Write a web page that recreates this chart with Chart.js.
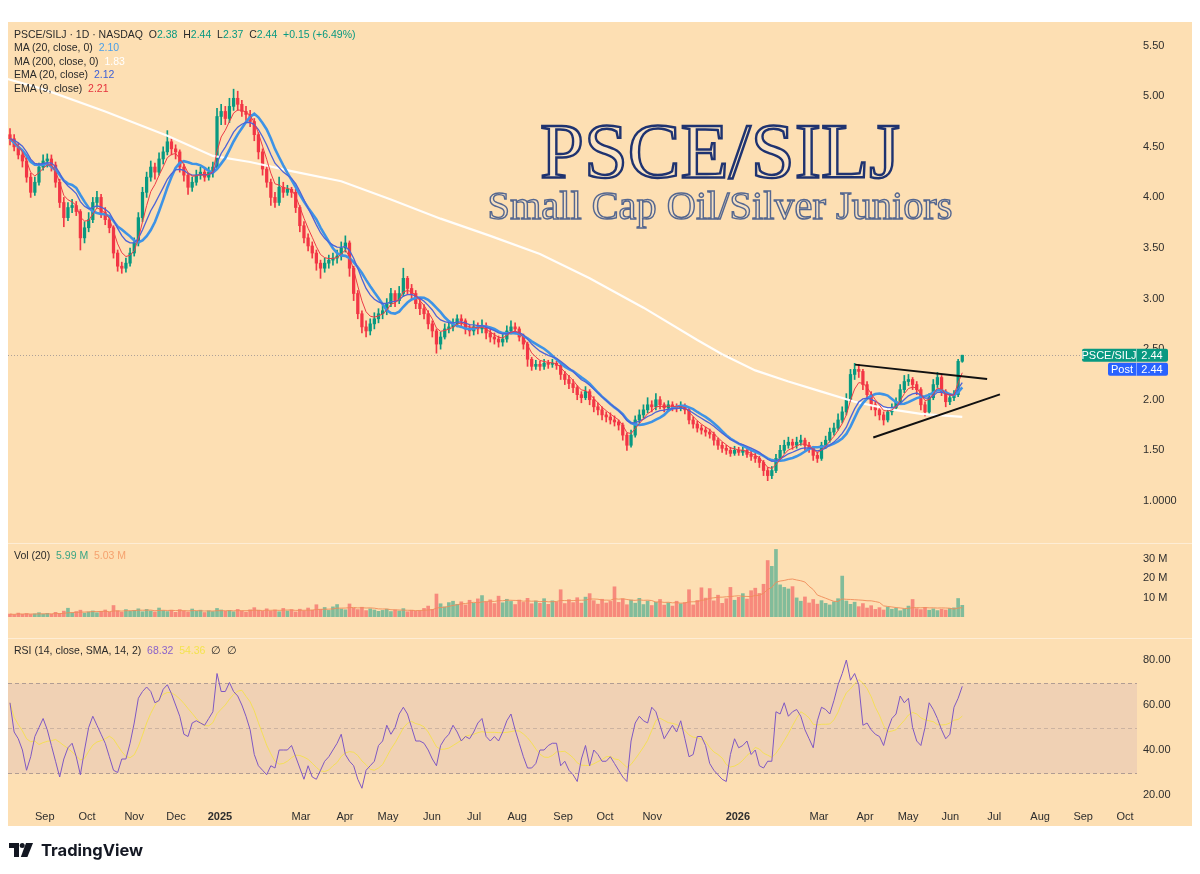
<!DOCTYPE html>
<html>
<head>
<meta charset="utf-8">
<script src="https://cdn.jsdelivr.net/npm/chart.js@4.4.1/dist/chart.umd.min.js"></script>
<style>
  body { margin: 0; width: 1200px; height: 874px; background: #fff; position: relative; overflow: hidden; font-family: 'Liberation Sans', Arial, sans-serif; }
  #panel { position: absolute; left: 8px; top: 22px; width: 1184px; height: 804px; background: #fddfb3; }
  .box { position: absolute; left: 8px; width: 1184px; }
  .sep { position: absolute; left: 8px; width: 1184px; height: 1px; background: rgba(255,255,255,0.45); }
  .lbl { position: absolute; left: 14px; font-size: 10.5px; line-height: 13.4px; color: #2a2a2a; white-space: pre; }
  #logo { position: absolute; left: 9px; top: 840px; display: flex; align-items: center; gap: 7px; font-family: Inter, sans-serif; font-weight: 700; font-size: 16.5px; color: #131722; }
  svg.title { position: absolute; left: 0; top: 0; }
</style>
</head>
<body>
<div id="panel"></div>
<div class="box" style="top:22px;height:521px"><canvas id="priceChart"></canvas></div>
<div class="sep" style="top:543px"></div>
<div class="box" style="top:543px;height:95px"><canvas id="volChart"></canvas></div>
<div class="sep" style="top:638px"></div>
<div class="box" style="top:638px;height:188px"><canvas id="rsiChart"></canvas></div>

<div class="lbl" style="top:28px">PSCE/SILJ · 1D · NASDAQ  O<span style="color:#089981">2.38</span>  H<span style="color:#089981">2.44</span>  L<span style="color:#089981">2.37</span>  C<span style="color:#089981">2.44</span>  <span style="color:#089981">+0.15 (+6.49%)</span>
MA (20, close, 0)  <span style="color:#4a9fe8">2.10</span>
MA (200, close, 0)  <span style="color:#ffffff">1.83</span>
EMA (20, close)  <span style="color:#3c5fd6">2.12</span>
EMA (9, close)  <span style="color:#e5323d">2.21</span></div>
<div class="lbl" style="top:549px">Vol (20)  <span style="color:#3aa584">5.99 M</span>  <span style="color:#f5a26e">5.03 M</span></div>
<div class="lbl" style="top:644px">RSI (14, close, SMA, 14, 2)  <span style="color:#8a62c9">68.32</span>  <span style="color:#f3e34f">54.36</span>  ∅  ∅</div>

<svg class="title" width="1200" height="874">
  <text x="720" y="177" text-anchor="middle" textLength="360" lengthAdjust="spacingAndGlyphs"
        font-family="'Liberation Serif', 'DejaVu Serif', serif" font-size="79"
        fill="#fbe5c4" stroke="#1f3370" stroke-width="2.4">PSCE/SILJ</text>
  <text x="720" y="219" text-anchor="middle" textLength="465" lengthAdjust="spacingAndGlyphs"
        font-family="'Liberation Serif', 'DejaVu Serif', serif" font-size="40"
        fill="#f6e0c2" stroke="#55678f" stroke-width="1.4">Small Cap Oil/Silver Juniors</text>
</svg>

<div id="logo">
  <svg width="25" height="14" viewBox="0 0 25 14"><path d="M0 0h10v14H5V5H0z" fill="#131722"/><circle cx="13.2" cy="2.6" r="2.5" fill="#131722"/><path d="M17 0h7l-5.6 14h-6.6z" fill="#131722"/></svg>
  <span>TradingView</span>
</div>

<script>
// one point = 2 trading days, bar index 0 = late Aug 2024
const firstOpen = 4.62;
const closes = [
  4.58,4.5,4.42,4.36,4.2,4.05,4.15,4.3,4.36,4.38,
  4.32,4.15,3.95,3.8,3.9,3.92,3.86,3.6,3.7,3.78,
  3.95,4.0,3.85,3.78,3.7,3.45,3.32,3.3,3.35,3.45,
  3.55,3.8,4.05,4.2,4.3,4.25,4.38,4.45,4.55,4.48,
  4.45,4.3,4.22,4.1,4.15,4.22,4.25,4.2,4.25,4.3,
  4.8,4.85,4.78,4.9,4.98,4.92,4.85,4.82,4.75,4.62,
  4.45,4.28,4.15,4.0,3.95,4.1,4.05,4.08,4.05,3.9,
  3.72,3.6,3.52,3.45,3.35,3.3,3.35,3.38,3.4,3.42,
  3.5,3.55,3.3,3.05,2.85,2.72,2.68,2.75,2.8,2.85,
  2.88,2.95,3.05,2.98,3.05,3.2,3.1,3.05,2.95,2.9,
  2.85,2.75,2.68,2.55,2.62,2.7,2.72,2.75,2.8,2.78,
  2.7,2.68,2.72,2.7,2.73,2.66,2.62,2.6,2.57,2.6,
  2.68,2.72,2.7,2.62,2.55,2.4,2.33,2.35,2.33,2.36,
  2.35,2.36,2.34,2.25,2.2,2.16,2.12,2.05,2.02,2.08,
  2.0,1.93,1.9,1.85,1.83,1.8,1.78,1.75,1.65,1.55,
  1.65,1.8,1.85,1.9,1.95,1.93,2.0,1.95,1.92,1.95,
  1.93,1.92,1.94,1.9,1.8,1.76,1.72,1.7,1.68,1.66,
  1.6,1.55,1.52,1.5,1.47,1.5,1.48,1.5,1.46,1.44,
  1.42,1.38,1.3,1.25,1.3,1.42,1.5,1.55,1.58,1.55,
  1.58,1.6,1.55,1.52,1.45,1.42,1.55,1.6,1.68,1.72,
  1.8,1.88,2.0,2.25,2.3,2.28,2.15,2.05,1.95,1.9,
  1.85,1.8,1.88,1.92,1.98,2.1,2.18,2.2,2.15,2.1,
  1.95,1.88,2.02,2.15,2.22,2.08,1.98,2.02,2.05,2.38,2.44
];
const highs = [
  4.68,4.62,4.54,4.46,4.4,4.24,4.2,4.34,4.42,4.43,
  4.42,4.35,4.18,4.0,3.95,3.98,3.96,3.88,3.76,3.85,
  4.0,4.06,4.03,3.9,3.82,3.72,3.48,3.36,3.4,3.5,
  3.6,3.85,4.1,4.25,4.36,4.34,4.44,4.5,4.66,4.58,
  4.52,4.47,4.33,4.24,4.2,4.27,4.3,4.29,4.3,4.35,
  4.88,4.92,4.9,4.98,5.07,5.05,4.96,4.9,4.86,4.78,
  4.64,4.48,4.32,4.18,4.05,4.2,4.15,4.12,4.1,4.08,
  3.92,3.76,3.64,3.56,3.48,3.38,3.4,3.43,3.45,3.48,
  3.56,3.62,3.57,3.32,3.08,2.88,2.78,2.8,2.86,2.9,
  2.93,3.0,3.1,3.08,3.12,3.3,3.22,3.14,3.08,3.0,
  2.94,2.88,2.78,2.7,2.67,2.75,2.78,2.8,2.84,2.84,
  2.8,2.74,2.78,2.76,2.79,2.76,2.7,2.66,2.63,2.65,
  2.73,2.78,2.76,2.72,2.65,2.57,2.42,2.39,2.38,2.4,
  2.39,2.4,2.38,2.36,2.28,2.24,2.2,2.14,2.08,2.13,
  2.1,2.03,1.97,1.93,1.88,1.87,1.84,1.8,1.77,1.67,
  1.7,1.84,1.9,1.95,2.02,1.99,2.06,2.03,1.97,1.99,
  1.98,1.96,1.98,1.96,1.92,1.83,1.79,1.75,1.73,1.71,
  1.68,1.62,1.58,1.55,1.53,1.54,1.53,1.53,1.52,1.49,
  1.47,1.44,1.4,1.33,1.34,1.46,1.55,1.6,1.63,1.61,
  1.63,1.65,1.62,1.58,1.54,1.48,1.58,1.64,1.72,1.77,
  1.86,1.93,2.06,2.3,2.36,2.35,2.3,2.18,2.08,1.98,
  1.93,1.88,1.92,1.96,2.02,2.15,2.24,2.25,2.22,2.18,
  2.12,1.98,2.06,2.2,2.27,2.24,2.1,2.06,2.09,2.4,2.44
];
const lows = [
  4.52,4.46,4.38,4.3,4.15,4.0,4.02,4.12,4.27,4.3,
  4.26,4.1,3.9,3.71,3.77,3.85,3.82,3.48,3.55,3.66,
  3.75,3.9,3.8,3.73,3.65,3.4,3.27,3.25,3.26,3.32,
  3.42,3.52,3.76,4.0,4.16,4.18,4.22,4.33,4.42,4.42,
  4.38,4.25,4.16,4.03,4.06,4.12,4.18,4.16,4.17,4.2,
  4.28,4.72,4.72,4.74,4.86,4.86,4.8,4.76,4.7,4.56,
  4.38,4.22,4.1,3.92,3.9,3.92,4.0,4.02,4.0,3.85,
  3.66,3.55,3.47,3.4,3.28,3.2,3.26,3.3,3.33,3.35,
  3.38,3.46,3.22,2.98,2.8,2.66,2.62,2.64,2.7,2.76,
  2.8,2.84,2.92,2.92,2.95,3.02,3.04,3.0,2.9,2.84,
  2.8,2.7,2.62,2.46,2.5,2.6,2.66,2.68,2.72,2.73,
  2.65,2.63,2.64,2.65,2.66,2.6,2.57,2.55,2.52,2.53,
  2.57,2.65,2.65,2.58,2.5,2.33,2.29,2.3,2.29,2.3,
  2.31,2.32,2.3,2.2,2.15,2.11,2.07,2.0,1.97,2.0,
  1.95,1.88,1.85,1.8,1.78,1.76,1.74,1.7,1.6,1.5,
  1.53,1.63,1.77,1.82,1.87,1.88,1.9,1.91,1.88,1.89,
  1.89,1.88,1.89,1.86,1.76,1.72,1.68,1.66,1.64,1.62,
  1.55,1.51,1.48,1.46,1.44,1.45,1.45,1.45,1.43,1.4,
  1.38,1.33,1.25,1.2,1.22,1.28,1.4,1.47,1.52,1.51,
  1.52,1.55,1.5,1.48,1.4,1.38,1.4,1.52,1.58,1.65,
  1.7,1.77,1.85,1.98,2.2,2.22,2.1,2.0,1.9,1.84,
  1.8,1.75,1.78,1.85,1.9,1.96,2.07,2.14,2.1,2.05,
  1.9,1.84,1.86,2.0,2.12,2.04,1.93,1.95,1.99,2.03,2.37
];
// millions
const volumes = [
  1.5,1.2,2.0,1.4,1.8,1.3,1.6,2.2,1.5,1.9,
  1.4,2.4,1.8,3.0,4.5,2.2,2.8,3.5,2.0,2.6,
  3.1,2.2,2.9,3.6,2.4,5.9,3.2,2.5,3.8,2.9,
  3.4,4.2,2.7,3.9,3.1,2.6,4.6,3.3,2.8,3.5,
  2.4,3.8,3.0,2.6,4.1,2.9,3.5,2.3,3.2,2.8,
  4.4,3.6,2.9,3.4,2.7,3.9,3.1,2.5,3.7,4.8,
  3.5,2.9,4.2,3.0,3.6,2.7,4.4,3.1,3.8,2.6,
  4.0,3.2,4.6,3.5,6.3,3.9,4.9,3.4,5.2,6.4,
  4.1,3.7,6.7,4.5,3.8,5.0,3.3,4.2,3.6,2.9,
  3.4,4.0,2.8,3.6,3.1,4.3,2.7,3.5,2.9,3.2,
  4.4,5.6,3.9,11.8,6.8,5.2,7.4,8.1,6.5,7.8,
  6.2,8.6,7.1,9.3,11.0,7.6,8.8,6.9,10.7,7.3,
  9.1,8.0,6.4,8.7,7.5,9.6,6.8,8.2,7.0,9.4,
  6.5,8.3,7.7,14.0,6.9,8.9,7.4,9.9,7.1,10.2,
  12.0,8.4,6.6,9.1,7.2,8.0,15.5,7.5,9.3,6.3,
  8.7,7.1,9.6,6.4,8.2,5.9,7.6,9.0,6.1,7.3,
  5.6,8.1,6.8,7.4,14.0,6.2,8.5,15.0,9.7,14.6,
  8.3,11.2,7.0,9.4,15.2,8.6,10.1,12.0,9.2,13.5,
  14.8,12.1,16.8,29.0,26.0,34.7,16.5,15.2,14.4,15.6,
  9.8,8.1,10.3,7.2,9.0,6.6,8.4,7.0,6.2,7.8,
  9.4,21.0,8.2,6.5,7.6,5.3,6.9,4.6,5.8,3.9,
  4.8,3.6,5.1,4.0,4.5,3.2,4.1,5.6,9.0,4.3,
  3.8,4.9,3.5,4.2,3.3,4.0,3.6,4.4,4.7,9.5,6.0
];
const rsiValues = [
  61,48,45,40,31,37,46,50,54,49,
  42,35,28,36,41,43,37,29,40,50,
  55,51,47,43,37,31,30,36,36,43,
  52,63,66,68,66,61,62,67,69,65,
  60,55,47,46,52,53,52,51,54,57,
  74,66,66,70,66,64,60,55,49,38,
  33,31,29,33,32,40,40,40,42,37,
  32,27,33,28,27,31,35,37,40,43,
  47,38,35,33,27,23,31,33,35,42,
  44,51,47,50,56,59,56,50,44,44,
  43,40,36,33,42,45,47,51,48,44,
  46,45,48,52,54,46,44,46,44,48,
  53,56,49,43,37,32,32,34,40,40,
  42,43,43,33,35,31,29,26,36,42,
  33,40,38,35,35,37,34,31,28,26,
  44,52,55,53,52,59,57,51,45,48,
  51,48,53,45,37,38,46,46,42,34,
  31,29,27,26,38,45,41,42,44,38,
  40,33,32,35,35,57,56,61,55,57,
  58,55,49,45,41,53,59,58,56,62,
  69,74,80,71,74,69,51,52,49,47,
  46,42,49,54,56,64,61,63,50,44,
  42,50,61,58,54,49,45,47,59,63,68.3
];
const ma200Index = [-3, 8, 23, 38, 49, 58, 68, 80, 92, 104, 116, 128, 140, 153, 166, 172, 180, 188, 196, 204, 212, 220, 230];
const ma200Values = [5.2, 5.07, 4.85, 4.61, 4.41, 4.35, 4.26, 4.16, 3.98, 3.79, 3.62, 3.44, 3.2, 2.91, 2.59, 2.45, 2.29, 2.18, 2.08, 1.98, 1.91, 1.86, 1.83];
// hand-drawn triangle
const trendUpperX = [204.1, 236.0];
const trendUpperY = [2.347, 2.205];
const trendLowerX = [208.5, 239.1];
const trendLowerY = [1.626, 2.053];
// month ticks on the bar-index axis
const monthTicks = [8.4, 18.6, 30.0, 40.1, 50.7, 70.3, 80.9, 91.3, 101.9, 112.1, 122.5, 133.6, 143.7, 155.1, 175.8, 195.4, 206.5, 216.9, 227.1, 237.7, 248.8, 259.2, 269.3];
const monthLabels = ['Sep', 'Oct', 'Nov', 'Dec', '2025', 'Mar', 'Apr', 'May', 'Jun', 'Jul', 'Aug', 'Sep', 'Oct', 'Nov', '2026', 'Mar', 'Apr', 'May', 'Jun', 'Jul', 'Aug', 'Sep', 'Oct'];
const priceTicks = [1, 1.5, 2, 2.5, 3, 3.5, 4, 4.5, 5, 5.5];
const volTicks = [10, 20, 30];
const rsiTicks = [20, 40, 60, 80];

const DAYS_PER_POINT = 2;
const GREEN = '#089981', RED = '#f23645';
const X_MIN = -0.483, X_MAX = 272.2;

Chart.defaults.font.family = "'Liberation Sans', Arial, sans-serif";
Chart.defaults.color = '#333';

function sma(arr, n) {
    return arr.map((_, i) => {
        const s = arr.slice(Math.max(0, i - n + 1), i + 1);
        return s.reduce((a, b) => a + b, 0) / s.length;
    });
}
function ema(arr, n) {
    const k = 2 / (n + 1);
    let prev = arr[0];
    return arr.map(v => (prev = prev + k * (v - prev)));
}

const idx = closes.map((_, i) => i);
const opens = closes.map((c, i) => i ? closes[i - 1] : firstOpen);
const isUp = idx.map(i => closes[i] >= opens[i]);
const xy = ys => ys.map((y, i) => ({ x: i, y }));
const lastClose = closes[closes.length - 1];

function xAxis(show) {
    return {
        type: 'linear', min: X_MIN, max: X_MAX, offset: false, display: show,
        grid: { display: false, drawTicks: false }, border: { display: false },
        afterBuildTicks: s => { s.ticks = monthTicks.map(v => ({ value: v })); },
        afterFit: s => { s.height = 21; s.paddingLeft = 0; s.paddingRight = 0; },
        ticks: {
            autoSkip: false, maxRotation: 0, padding: 5, color: '#2e2e2e',
            callback: (v, i) => monthLabels[i],
            font: ctx => ({ size: 11, weight: /^\d{4}$/.test(monthLabels[ctx.index]) ? 'bold' : 'normal' })
        }
    };
}
function yAxis(min, max, ticks, fmt) {
    return {
        position: 'right', min, max,
        grid: { display: false, drawTicks: false }, border: { display: false },
        afterBuildTicks: s => { s.ticks = ticks.map(v => ({ value: v })); },
        afterFit: s => { s.width = 55; s.paddingTop = 0; s.paddingBottom = 0; },
        ticks: { callback: fmt, padding: 6, color: '#2e2e2e', font: { size: 11 } }
    };
}
const baseOpts = {
    responsive: true, maintainAspectRatio: false, animation: false,
    layout: { padding: 0 },
    plugins: { legend: { display: false }, tooltip: { enabled: false } }
};

function roundRect(ctx, x, y, w, h, r) {
    ctx.beginPath();
    ctx.moveTo(x + r, y); ctx.lineTo(x + w - r, y); ctx.quadraticCurveTo(x + w, y, x + w, y + r);
    ctx.lineTo(x + w, y + h - r); ctx.quadraticCurveTo(x + w, y + h, x + w - r, y + h);
    ctx.lineTo(x + r, y + h); ctx.quadraticCurveTo(x, y + h, x, y + h - r);
    ctx.lineTo(x, y + r); ctx.quadraticCurveTo(x, y, x + r, y); ctx.fill();
}
function drawTag(ctx, left, split, right, cy, color, name, value) {
    ctx.fillStyle = color;
    roundRect(ctx, left, cy - 6.5, right - left, 13, 2);
    ctx.strokeStyle = 'rgba(255,255,255,0.45)';
    ctx.beginPath(); ctx.moveTo(split + 0.5, cy - 6.5); ctx.lineTo(split + 0.5, cy + 6.5); ctx.stroke();
    ctx.fillStyle = '#fff';
    ctx.font = "11px 'Liberation Sans', Arial, sans-serif";
    ctx.textBaseline = 'middle'; ctx.textAlign = 'center';
    ctx.fillText(name, (left + split) / 2, cy + 0.5);
    ctx.fillText(value, (split + right) / 2, cy + 0.5);
}

const priceDecor = {
    id: 'priceDecor',
    beforeDatasetsDraw(chart) {
        const { ctx, chartArea: a, scales: { y } } = chart;
        const py = Math.round(y.getPixelForValue(lastClose)) + 0.5;
        ctx.save();
        ctx.strokeStyle = 'rgba(110,110,130,0.55)'; ctx.lineWidth = 1; ctx.setLineDash([1, 2]);
        ctx.beginPath(); ctx.moveTo(a.left, py); ctx.lineTo(a.right, py); ctx.stroke();
        ctx.restore();
    },
    afterDraw(chart) {
        const { ctx, chartArea: a, scales: { y } } = chart;
        const py = y.getPixelForValue(lastClose);
        ctx.save();
        drawTag(ctx, a.right - 55, a.right - 1, a.right + 31, py, GREEN, 'PSCE/SILJ', lastClose.toFixed(2));
        drawTag(ctx, a.right - 29, a.right - 1, a.right + 31, py + 14, '#2962ff', 'Post', lastClose.toFixed(2));
        ctx.restore();
    }
};

const rsiDecor = {
    id: 'rsiDecor',
    beforeDatasetsDraw(chart) {
        const { ctx, chartArea: a, scales: { y } } = chart;
        const y70 = Math.round(y.getPixelForValue(70)) + 0.5;
        const y50 = Math.round(y.getPixelForValue(50)) + 0.5;
        const y30 = Math.round(y.getPixelForValue(30)) + 0.5;
        ctx.save();
        ctx.fillStyle = 'rgba(126,87,194,0.1)';
        ctx.fillRect(a.left, y70, a.right - a.left, y30 - y70);
        ctx.setLineDash([4, 3]); ctx.lineWidth = 1;
        ctx.strokeStyle = 'rgba(120,110,120,0.55)';
        [y70, y30].forEach(v => { ctx.beginPath(); ctx.moveTo(a.left, v); ctx.lineTo(a.right, v); ctx.stroke(); });
        ctx.strokeStyle = 'rgba(120,110,120,0.3)';
        ctx.beginPath(); ctx.moveTo(a.left, y50); ctx.lineTo(a.right, y50); ctx.stroke();
        ctx.restore();
    }
};

const lineDs = (data, color, width, order) => ({
    type: 'line', data, borderColor: color, borderWidth: width,
    pointRadius: 0, tension: 0, order
});

new Chart(document.getElementById('priceChart'), {
    type: 'bar',
    data: {
        datasets: [
            { data: idx.map(i => ({ x: i, y: [lows[i], highs[i]] })), backgroundColor: isUp.map(u => u ? GREEN : RED), barThickness: 1, grouped: false, order: 6 },
            { data: idx.map(i => ({ x: i, y: [opens[i], closes[i]] })), backgroundColor: isUp.map(u => u ? GREEN : RED), barThickness: 2.6, minBarLength: 1, grouped: false, order: 5 },
            lineDs(ma200Index.map((x, i) => ({ x, y: ma200Values[i] })), 'rgba(255,255,255,0.95)', 2.2, 4),
            lineDs(xy(sma(closes, 20 / DAYS_PER_POINT)), '#3d93e6', 2.6, 3),
            lineDs(xy(ema(closes, 20 / DAYS_PER_POINT)), '#4d63d6', 1.3, 2),
            lineDs(xy(ema(closes, 9 / DAYS_PER_POINT)), '#ec3a47', 1, 1),
            lineDs(trendUpperX.map((x, i) => ({ x, y: trendUpperY[i] })), '#111', 2, 0),
            lineDs(trendLowerX.map((x, i) => ({ x, y: trendLowerY[i] })), '#111', 2, 0)
        ]
    },
    options: {
        ...baseOpts,
        scales: {
            x: xAxis(false),
            y: yAxis(0.7913, 5.734, priceTicks, v => v === 1 ? '1.0000' : v.toFixed(2))
        }
    },
    plugins: [priceDecor]
});

new Chart(document.getElementById('volChart'), {
    type: 'bar',
    data: {
        datasets: [
            { data: xy(volumes), backgroundColor: isUp.map(u => u ? 'rgba(8,153,129,0.5)' : 'rgba(242,54,69,0.5)'), barThickness: 3, minBarLength: 1, grouped: false, order: 2 },
            lineDs(xy(sma(volumes, 20 / DAYS_PER_POINT)), 'rgba(240,140,90,0.9)', 1, 1)
        ]
    },
    options: {
        ...baseOpts,
        scales: { x: xAxis(false), y: yAxis(0, 38, volTicks, v => v + ' M') }
    }
});

new Chart(document.getElementById('rsiChart'), {
    type: 'line',
    data: {
        datasets: [
            lineDs(xy(sma(rsiValues, 14 / DAYS_PER_POINT)), 'rgba(245,225,70,0.85)', 1, 2),
            lineDs(xy(rsiValues), '#7e57c2', 1, 1)
        ]
    },
    options: {
        ...baseOpts,
        scales: { x: xAxis(true), y: yAxis(15.56, 89.78, rsiTicks, v => v.toFixed(2)) }
    },
    plugins: [rsiDecor]
});
</script>
</body>
</html>
